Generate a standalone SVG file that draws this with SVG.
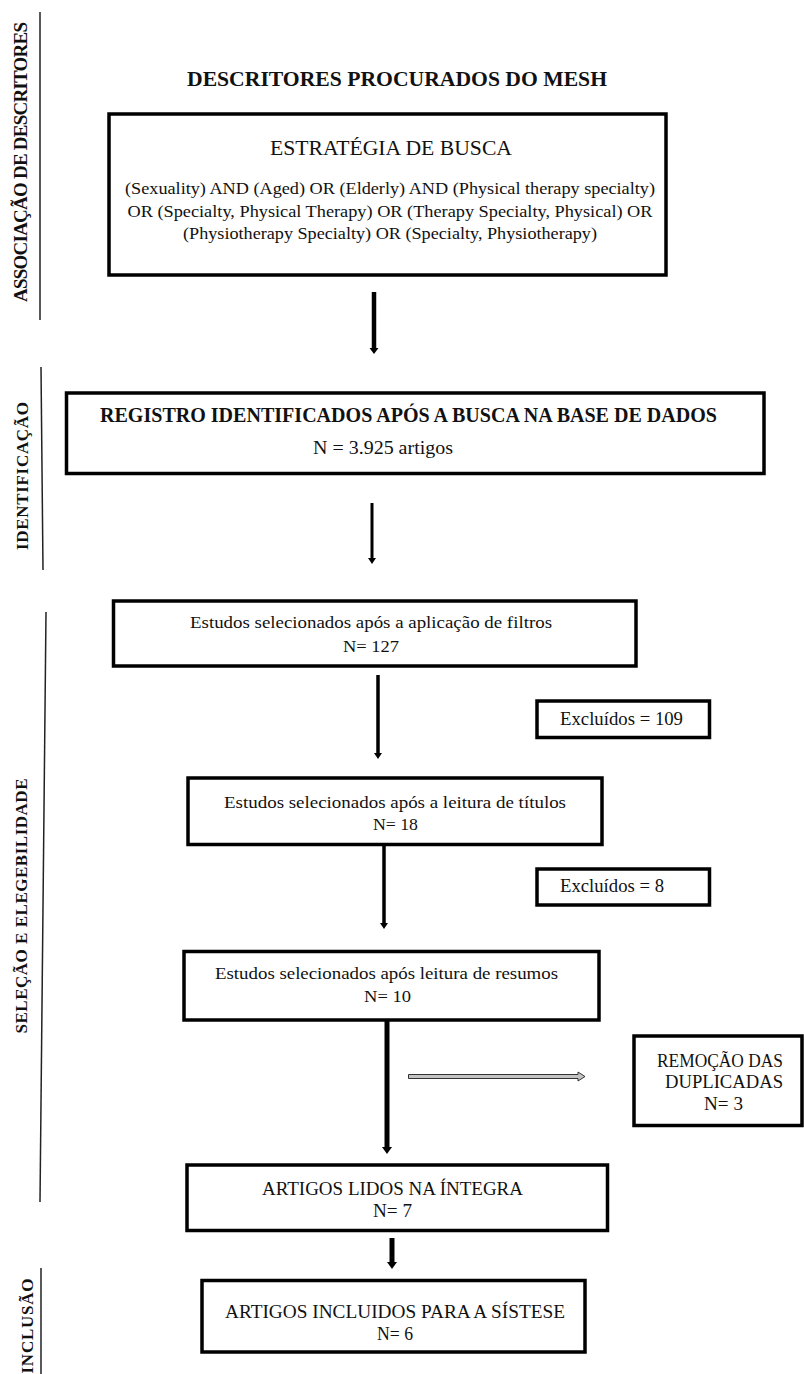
<svg xmlns="http://www.w3.org/2000/svg" width="804" height="1374" viewBox="0 0 804 1374">
<defs>
<style>
.t{font-family:"Liberation Serif","Times New Roman",serif;fill:#111;text-anchor:middle}
.b{font-weight:bold}
.box{fill:#fff;stroke:#000;stroke-width:3.5}
.sec{stroke:#222;stroke-width:1.5;fill:none}
.arr{stroke:#000;fill:none}
.lab{font-family:"Liberation Serif","Times New Roman",serif;font-weight:bold;fill:#111;text-anchor:middle}
</style>
<marker id="ah" markerUnits="userSpaceOnUse" markerWidth="10" markerHeight="8" refX="4" refY="5" orient="auto-start-reverse" viewBox="0 0 8 6">
</marker>
</defs>
<rect width="804" height="1374" fill="#fff"/>

<g id="sections">
<line class="sec" x1="40" y1="12" x2="40" y2="320"/>
<text class="lab" font-size="19" transform="translate(27,162) rotate(-90)" textLength="280" lengthAdjust="spacing">ASSOCIAÇÃO DE DESCRITORES</text>
<line class="sec" x1="41" y1="367" x2="43" y2="570"/>
<text class="lab" font-size="17" transform="translate(28,476) rotate(-90)" textLength="148" lengthAdjust="spacing">IDENTIFICAÇÃO</text>
<line class="sec" x1="46" y1="612" x2="40" y2="1202"/>
<text class="lab" font-size="17" transform="translate(27,906) rotate(-90)" textLength="255" lengthAdjust="spacing">SELEÇÃO E ELEGEBILIDADE</text>
<line class="sec" x1="41" y1="1268" x2="41" y2="1374"/>
<text class="lab" font-size="17" transform="translate(33,1326) rotate(-90)" textLength="95" lengthAdjust="spacing">INCLUSÃO</text>
</g>

<g id="title">
<text class="t b" x="397" y="86" font-size="21" textLength="420" lengthAdjust="spacingAndGlyphs">DESCRITORES PROCURADOS DO MESH</text>
</g>

<g id="n-estrategia">
<rect class="box" x="109" y="114" width="557" height="161"/>
<text class="t" x="391" y="155" font-size="21" textLength="242" lengthAdjust="spacingAndGlyphs">ESTRATÉGIA DE BUSCA</text>
<text class="t" x="390" y="194" font-size="17" textLength="530" lengthAdjust="spacingAndGlyphs">(Sexuality) AND (Aged) OR (Elderly) AND (Physical therapy specialty)</text>
<text class="t" x="390" y="217" font-size="17" textLength="525" lengthAdjust="spacingAndGlyphs">OR (Specialty, Physical Therapy) OR (Therapy Specialty, Physical) OR</text>
<text class="t" x="390" y="239" font-size="17" textLength="414" lengthAdjust="spacingAndGlyphs">(Physiotherapy Specialty) OR (Specialty, Physiotherapy)</text>
</g>

<g id="n-registro">
<rect class="box" x="66.5" y="393" width="697.5" height="80.5"/>
<text class="t b" x="408.5" y="422" font-size="21" textLength="617" lengthAdjust="spacingAndGlyphs">REGISTRO IDENTIFICADOS APÓS A BUSCA NA BASE DE DADOS</text>
<text class="t" x="383" y="454" font-size="19" textLength="140" lengthAdjust="spacingAndGlyphs">N = 3.925 artigos</text>
</g>

<g id="n-filtros">
<rect class="box" x="113.5" y="601" width="522.5" height="65"/>
<text class="t" x="371" y="628" font-size="17" textLength="362" lengthAdjust="spacingAndGlyphs">Estudos selecionados após a aplicação de filtros</text>
<text class="t" x="371" y="652" font-size="17" textLength="56" lengthAdjust="spacingAndGlyphs">N= 127</text>
</g>

<g id="n-excl109">
<rect class="box" x="537" y="701" width="172.5" height="36.5"/>
<text class="t" x="621.5" y="725" font-size="18" textLength="123" lengthAdjust="spacingAndGlyphs">Excluídos = 109</text>
</g>

<g id="n-titulos">
<rect class="box" x="188" y="778" width="414" height="66.5"/>
<text class="t" x="395" y="808" font-size="17" textLength="342" lengthAdjust="spacingAndGlyphs">Estudos selecionados após a leitura de títulos</text>
<text class="t" x="395.5" y="830" font-size="17" textLength="45" lengthAdjust="spacingAndGlyphs">N= 18</text>
</g>

<g id="n-excl8">
<rect class="box" x="537" y="869" width="172.5" height="36"/>
<text class="t" x="612" y="892" font-size="18" textLength="104" lengthAdjust="spacingAndGlyphs">Excluídos = 8</text>
</g>

<g id="n-resumos">
<rect class="box" x="184" y="951.5" width="415" height="68.5"/>
<text class="t" x="386.5" y="979" font-size="17" textLength="343" lengthAdjust="spacingAndGlyphs">Estudos selecionados após leitura de resumos</text>
<text class="t" x="387.5" y="1002" font-size="17" textLength="47" lengthAdjust="spacingAndGlyphs">N= 10</text>
</g>

<g id="n-duplicadas">
<rect class="box" x="634" y="1036" width="168" height="89.5"/>
<text class="t" x="720" y="1067" font-size="18" textLength="126" lengthAdjust="spacingAndGlyphs">REMOÇÃO DAS</text>
<text class="t" x="724" y="1088" font-size="18" textLength="118" lengthAdjust="spacingAndGlyphs">DUPLICADAS</text>
<text class="t" x="723.5" y="1110" font-size="18" textLength="39" lengthAdjust="spacingAndGlyphs">N= 3</text>
</g>

<g id="n-integra">
<rect class="box" x="187" y="1165" width="420.5" height="65.5"/>
<text class="t" x="392.5" y="1195" font-size="18" textLength="261" lengthAdjust="spacingAndGlyphs">ARTIGOS LIDOS NA ÍNTEGRA</text>
<text class="t" x="392.5" y="1217" font-size="18" textLength="39" lengthAdjust="spacingAndGlyphs">N= 7</text>
</g>

<g id="n-sintese">
<rect class="box" x="202" y="1280.5" width="383" height="71.5"/>
<text class="t" x="395" y="1318" font-size="18" textLength="340" lengthAdjust="spacingAndGlyphs">ARTIGOS INCLUIDOS PARA A SÍSTESE</text>
<text class="t" x="395" y="1340" font-size="18" textLength="36" lengthAdjust="spacingAndGlyphs">N= 6</text>
</g>

<g id="connectors">
<line class="arr" x1="374" y1="292" x2="374" y2="349" stroke-width="4.5"/>
<polygon points="369.5,348 378.5,348 374,354" fill="#000"/>
<line class="arr" x1="372" y1="503" x2="372" y2="559" stroke-width="3"/>
<polygon points="368,558 376,558 372,564" fill="#000"/>
<line class="arr" x1="378" y1="675" x2="378" y2="754" stroke-width="3.5"/>
<polygon points="374,753 382,753 378,759" fill="#000"/>
<line class="arr" x1="384" y1="846" x2="384" y2="924" stroke-width="3.5"/>
<polygon points="380,923 388,923 384,929" fill="#000"/>
<line class="arr" x1="387" y1="1021" x2="387" y2="1148" stroke-width="5"/>
<polygon points="382,1147 392,1147 387,1154" fill="#000"/>
<line class="arr" x1="392" y1="1238" x2="392" y2="1263" stroke-width="5"/>
<polygon points="387,1262 397,1262 392,1269" fill="#000"/>
<path d="M408.5,1074.5 H578 V1072 L585,1076.5 L578,1081 V1078.5 H408.5 Z" fill="#c4c4c4" stroke="#333" stroke-width="1"/>
</g>
</svg>
